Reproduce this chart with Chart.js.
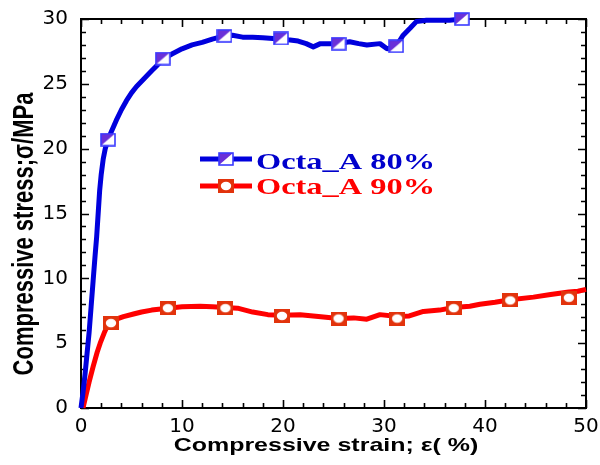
<!DOCTYPE html>
<html>
<head>
<meta charset="utf-8">
<script src="https://cdn.jsdelivr.net/npm/chart.js@4.4.1/dist/chart.umd.min.js"></script>
<style>
html,body{margin:0;padding:0;background:#fff;}
#wrap{position:relative;width:600px;height:465px;}
</style>
</head>
<body>
<div id="wrap"><canvas id="c" width="600" height="465"></canvas></div>
<script>
// ---- data ----
const seriesNames = ['Octa_A 80%', 'Octa_A 90%'];
const xTitle = 'Compressive strain; \u03b5( %)';
const yTitle = 'Compressive stress;\u03c3/MPa';

const blueX = [0,0.2,0.4,0.6,0.8,1.0,1.2,1.4,1.55,1.7,1.85,2.0,2.2,2.4,2.67,3.0,3.5,4,4.5,5,5.5,6,6.5,7,7.5,8.1,9,10,11,12,13,14.2,15,16,17,18,19,19.8,20.5,21.5,22.3,23,23.7,24.4,25.5,26.6,27.5,28.3,29.6,30.3,31.2,31.9,32.6,33.2,34.2,35.8,36.5,37.7];
const blueY = [0,1.2,2.6,4.2,5.8,7.8,9.8,11.8,13.2,15,16.8,18,19.2,20,20.7,21.3,22.2,23,23.7,24.3,24.8,25.2,25.6,26,26.4,26.9,27.3,27.7,28,28.2,28.45,28.7,28.75,28.6,28.6,28.55,28.5,28.5,28.4,28.3,28.1,27.85,28.1,28.1,28.1,28.25,28.1,28.0,28.1,27.7,27.9,28.75,29.3,29.8,29.9,29.9,29.9,30.0];
const blueMarkX = [2.67,8.1,14.2,19.8,25.5,31.2,37.7];
const blueMarkY = [20.7,26.95,28.7,28.5,28.1,27.9,30.0];

const redX = [0.2,0.5,0.8,1.2,1.6,1.9,2.3,2.6,2.97,3.5,4.2,5.2,6,7,8.6,10,11.8,13,14.3,15.5,17,18.5,19.9,21.7,23.5,25.5,27,28.3,29.6,31.3,32.5,33.9,35.5,36.9,38.5,39.5,41,42.5,44.8,46.5,48.3,49.2,50];
const redY = [0,1,2,3.2,4.3,5.0,5.8,6.3,6.6,6.85,7.05,7.25,7.4,7.55,7.7,7.8,7.85,7.8,7.75,7.7,7.4,7.2,7.15,7.2,7.05,6.9,6.95,6.85,7.2,7.05,7.1,7.45,7.55,7.75,7.85,8.0,8.15,8.35,8.55,8.75,8.95,9.0,9.15];
const redMarkX = [2.97,8.6,14.3,19.9,25.5,31.3,36.9,42.5,48.3];
const redMarkY = [6.55,7.7,7.7,7.1,6.9,6.9,7.7,8.3,8.5];

const xTicks = [0,10,20,30,40,50];
const yTicks = [0,5,10,15,20,25,30];

// ---- marker images ----
function blueMarker(){
  const c=document.createElement('canvas'); c.width=16; c.height=14;
  const g=c.getContext('2d');
  g.fillStyle='#ffffff'; g.fillRect(1,1,14,12);
  g.fillStyle='#6a30d8';
  g.beginPath(); g.moveTo(1,1); g.lineTo(15,1); g.lineTo(1,13); g.closePath(); g.fill();
  g.strokeStyle='#3a3aff'; g.lineWidth=1.6; g.strokeRect(1,1,14,12);
  return c;
}
function redMarker(){
  const c=document.createElement('canvas'); c.width=16; c.height=14;
  const g=c.getContext('2d');
  g.fillStyle='#e2330c'; g.fillRect(0,0,16,14);
  g.fillStyle='#ffffff';
  g.beginPath(); g.ellipse(8,7,5.2,4.2,0,0,Math.PI*2); g.fill();
  return c;
}
const bm = blueMarker(), rm = redMarker();

const pts = (xs,ys)=>xs.map((x,i)=>({x:x,y:ys[i]}));

function noOverflow(s){ s.paddingLeft=0; s.paddingRight=0; s.paddingTop=0; s.paddingBottom=0; }

// ---- frame, inner ticks, titles, legend ----
const decor = {
  id:'decor',
  beforeDatasetsDraw(chart){
    const {ctx, chartArea:a, scales:{x,y}} = chart;
    ctx.save();
    ctx.strokeStyle='#000'; ctx.lineWidth=1.6;
    ctx.beginPath();
    for(let v=0; v<=50; v+=2){
      const px=Math.round(x.getPixelForValue(v))+0.5;
      const L = (v%10===0)?8:5;
      ctx.moveTo(px,a.bottom); ctx.lineTo(px,a.bottom-L);
      ctx.moveTo(px,a.top); ctx.lineTo(px,a.top+L);
    }
    for(let v=0; v<=30; v+=1){
      const py=Math.round(y.getPixelForValue(v))+0.5;
      const L = (v%5===0)?8:5;
      ctx.moveTo(a.left,py); ctx.lineTo(a.left+L,py);
      ctx.moveTo(a.right,py); ctx.lineTo(a.right-L,py);
    }
    ctx.stroke();
    ctx.lineWidth=2;
    ctx.strokeRect(a.left, a.top, a.right-a.left, a.bottom-a.top);
    ctx.restore();
  },
  afterDraw(chart){
    const ctx=chart.ctx;
    ctx.save();
    ctx.fillStyle='#000';
    ctx.font='bold 18.5px "Liberation Sans", Arial, sans-serif';
    ctx.textAlign='center'; ctx.textBaseline='alphabetic';
    ctx.save(); ctx.translate(326,451); ctx.scale(1.35,1); ctx.fillText(xTitle,0,0); ctx.restore();
    ctx.font='bold 22px "Liberation Sans", Arial, sans-serif';
    ctx.save(); ctx.translate(33,234); ctx.scale(1.3,1); ctx.rotate(-Math.PI/2); ctx.fillText(yTitle,0,0); ctx.restore();
    const rows=[{c:'#0000dd',tc:'#0000cc',m:bm,ly:159,ty:169,name:seriesNames[0]},
                {c:'#ff0000',tc:'#ff0000',m:rm,ly:186,ty:194,name:seriesNames[1]}];
    rows.forEach(r=>{
      ctx.strokeStyle=r.c; ctx.lineWidth=5;
      ctx.beginPath(); ctx.moveTo(200,r.ly); ctx.lineTo(252,r.ly); ctx.stroke();
      ctx.drawImage(r.m, 226-r.m.width/2, r.ly-r.m.height/2);
      ctx.fillStyle=r.tc;
      ctx.font='bold 24px "Liberation Serif", "Times New Roman", serif';
      ctx.textAlign='left';
      ctx.save(); ctx.translate(256,r.ty); ctx.scale(1.35,1); ctx.fillText(r.name,0,0); ctx.restore();
    });
    ctx.restore();
  }
};

const tickFont = {family:'"DejaVu Sans", sans-serif', size:20};

const chart = new Chart(document.getElementById('c'), {
  type:'scatter',
  data:{datasets:[
    {label:seriesNames[0]+' markers', data:pts(blueMarkX,blueMarkY), showLine:false, pointStyle:bm, pointRadius:7, clip:false},
    {label:seriesNames[1]+' markers', data:pts(redMarkX,redMarkY), showLine:false, pointStyle:rm, pointRadius:7, clip:false},
    {label:seriesNames[0], data:pts(blueX,blueY), showLine:true, borderColor:'#0000dd', borderWidth:5, pointRadius:0, tension:0, clip:false, borderJoinStyle:'round'},
    {label:seriesNames[1], data:pts(redX,redY), showLine:true, borderColor:'#ff0000', borderWidth:5, pointRadius:0, tension:0, clip:false, borderJoinStyle:'round'}
  ]},
  options:{
    responsive:false, animation:false, devicePixelRatio:1,
    layout:{padding:{left:0,right:14,top:19,bottom:0}},
    plugins:{legend:{display:false}, tooltip:{enabled:false}},
    events:[],
    scales:{
      x:{type:'linear', min:0, max:50,
        afterBuildTicks:(s)=>{s.ticks=xTicks.map(v=>({value:v}));},
        ticks:{font:tickFont, color:'#000', padding:7, maxRotation:0, autoSkip:false},
        grid:{display:false, drawTicks:false, tickLength:0}, border:{display:false},
        afterFit:(s)=>{s.height=57; noOverflow(s);}},
      y:{type:'linear', min:0, max:30,
        afterBuildTicks:(s)=>{s.ticks=yTicks.map(v=>({value:v}));},
        ticks:{font:tickFont, color:'#000', padding:13, autoSkip:false},
        grid:{display:false, drawTicks:false, tickLength:0}, border:{display:false},
        afterFit:(s)=>{s.width=81; noOverflow(s);}}
    }
  },
  plugins:[decor]
});
</script>
</body>
</html>
